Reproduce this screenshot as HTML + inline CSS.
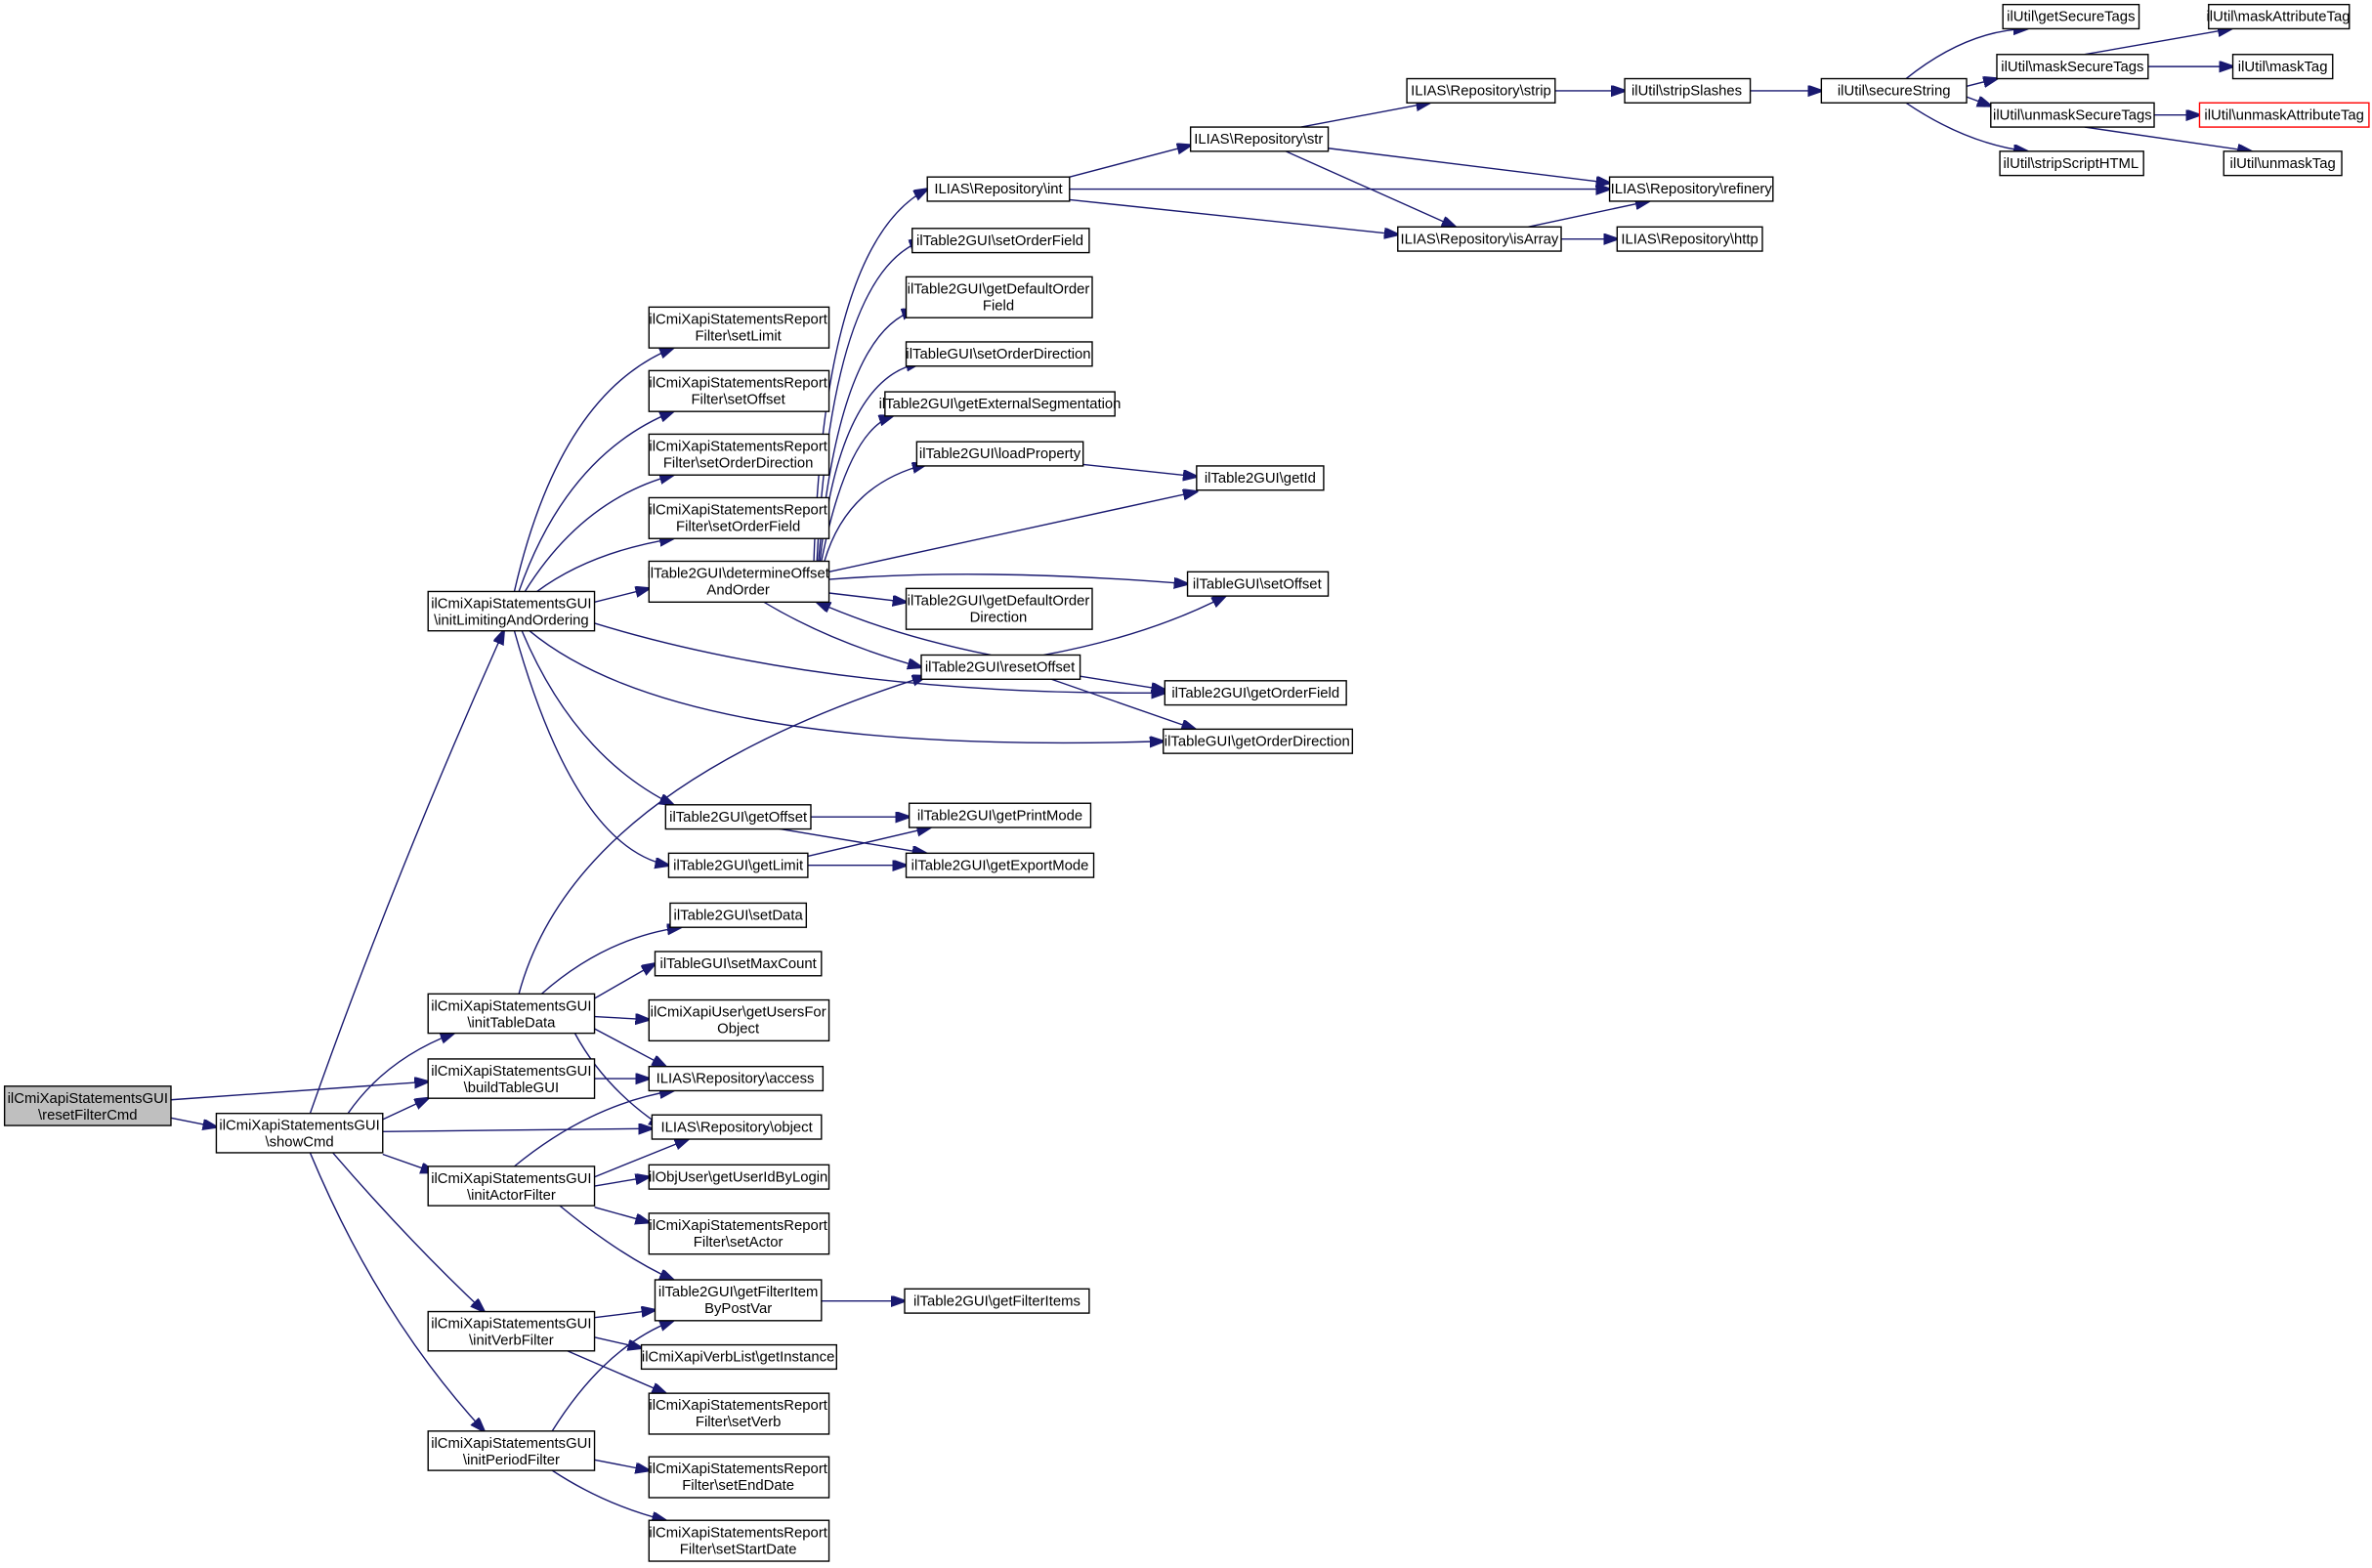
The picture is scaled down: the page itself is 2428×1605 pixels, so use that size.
<!DOCTYPE html>
<html><head><meta charset="utf-8"><style>
html,body{margin:0;padding:0;background:#fff;}
svg{display:block;}
text{font-family:"Liberation Sans",sans-serif;font-size:9.6px;fill:#000;text-anchor:middle;}
.b{fill:#fff;stroke:#000;stroke-width:0.9;}
.e{fill:none;stroke:#191970;stroke-width:0.9;marker-end:url(#a);}
</style></head><body>
<svg width="2428" height="1605" viewBox="0 0 1568 1036.5" preserveAspectRatio="none" xmlns="http://www.w3.org/2000/svg">
<defs><marker id="a" markerWidth="10" markerHeight="8" refX="9" refY="3.5" orient="auto" markerUnits="userSpaceOnUse"><path d="M0,0 L10,3.5 L0,7 z" fill="#191970" stroke="#191970"/></marker></defs>
<!-- edges -->
<path class="e" d="M113,727 L283,715"/>
<path class="e" d="M113,739 L143,745"/>
<path class="e" d="M205,736 Q260,580 333,417"/>
<path class="e" d="M230,736 Q255,700 300,683"/>
<path class="e" d="M253,740 L283,726"/>
<path class="e" d="M253,748 L431,746"/>
<path class="e" d="M253,763 L287,775"/>
<path class="e" d="M220,762 Q270,820 320,867"/>
<path class="e" d="M205,762 Q250,870 320,946"/>
<path class="e" d="M340,391 Q370,260 445,230"/>
<path class="e" d="M343,391 Q375,300 445,272"/>
<path class="e" d="M347,391 Q385,330 445,314"/>
<path class="e" d="M355,391 Q390,365 445,356"/>
<path class="e" d="M393,398 L429,389"/>
<path class="e" d="M393,412 Q550,460 770,458"/>
<path class="e" d="M350,417 Q450,500 769,490"/>
<path class="e" d="M345,417 Q380,500 445,532"/>
<path class="e" d="M340,417 Q380,560 442,572"/>
<path class="e" d="M538,371 Q545,160 613,125"/>
<path class="e" d="M540,371 Q550,180 610,159"/>
<path class="e" d="M541,371 Q555,220 605,205"/>
<path class="e" d="M542,371 Q555,250 608,240"/>
<path class="e" d="M543,371 Q560,285 590,275"/>
<path class="e" d="M545,371 Q560,320 612,307"/>
<path class="e" d="M548,378 L791,325"/>
<path class="e" d="M548,383 Q650,375 785,386"/>
<path class="e" d="M548,392 L599,398"/>
<path class="e" d="M505,398 Q550,425 609,441"/>
<path class="e" d="M655,433 Q590,420 540,398"/>
<path class="e" d="M690,433 Q760,420 810,394"/>
<path class="e" d="M714,447 L770,456"/>
<path class="e" d="M695,449 L790,482"/>
<path class="e" d="M536,540 L601,540"/>
<path class="e" d="M510,547 L612,564"/>
<path class="e" d="M534,566 L615,547"/>
<path class="e" d="M534,572 L599,572"/>
<path class="e" d="M716,307 L791,315"/>
<path class="e" d="M707,117 L787,96"/>
<path class="e" d="M707,125 L1064,125"/>
<path class="e" d="M707,132 L924,155"/>
<path class="e" d="M860,84 L945,68"/>
<path class="e" d="M878,98 L1064,121"/>
<path class="e" d="M850,100 L962,150"/>
<path class="e" d="M1028,60 L1074,60"/>
<path class="e" d="M1157,60 L1204,60"/>
<path class="e" d="M1010,150 L1090,133"/>
<path class="e" d="M1032,158 L1069,158"/>
<path class="e" d="M1260,52 Q1300,20 1340,19"/>
<path class="e" d="M1300,57 L1320,52"/>
<path class="e" d="M1300,64 L1316,70"/>
<path class="e" d="M1260,68 Q1300,95 1340,100"/>
<path class="e" d="M1378,36 L1475,19"/>
<path class="e" d="M1406,44 L1476,44"/>
<path class="e" d="M1410,76 L1454,76"/>
<path class="e" d="M1378,84 L1488,100"/>
<path class="e" d="M343,657 Q380,520 612,447"/>
<path class="e" d="M358,657 Q400,620 450,613"/>
<path class="e" d="M393,660 L433,637"/>
<path class="e" d="M393,672 L429,674"/>
<path class="e" d="M393,680 L440,705"/>
<path class="e" d="M380,683 Q400,720 438,745"/>
<path class="e" d="M393,713 L429,713"/>
<path class="e" d="M340,771 Q390,730 445,721"/>
<path class="e" d="M393,778 L455,753"/>
<path class="e" d="M393,784 L429,778"/>
<path class="e" d="M393,798 L429,808"/>
<path class="e" d="M370,797 Q410,830 445,846"/>
<path class="e" d="M393,871 L433,866"/>
<path class="e" d="M393,884 L424,891"/>
<path class="e" d="M375,893 L440,921"/>
<path class="e" d="M365,946 Q400,890 445,873"/>
<path class="e" d="M393,965 L429,972"/>
<path class="e" d="M365,972 Q400,995 440,1005"/>
<path class="e" d="M543,860 L598,860"/>
<!-- nodes -->
<rect x="3" y="718" width="110" height="26" fill="#bfbfbf" stroke="#000" stroke-width="0.9"/><text x="58" y="729">ilCmiXapiStatementsGUI</text><text x="58" y="740">\resetFilterCmd</text>
<rect class="b" x="143" y="736" width="110" height="26"/><text x="198" y="747">ilCmiXapiStatementsGUI</text><text x="198" y="758">\showCmd</text>
<rect class="b" x="283" y="391" width="110" height="26"/><text x="338" y="402">ilCmiXapiStatementsGUI</text><text x="338" y="413">\initLimitingAndOrdering</text>
<rect class="b" x="283" y="657" width="110" height="26"/><text x="338" y="668">ilCmiXapiStatementsGUI</text><text x="338" y="679">\initTableData</text>
<rect class="b" x="283" y="700" width="110" height="26"/><text x="338" y="711">ilCmiXapiStatementsGUI</text><text x="338" y="722">\buildTableGUI</text>
<rect class="b" x="283" y="771" width="110" height="26"/><text x="338" y="782">ilCmiXapiStatementsGUI</text><text x="338" y="793">\initActorFilter</text>
<rect class="b" x="283" y="867" width="110" height="26"/><text x="338" y="878">ilCmiXapiStatementsGUI</text><text x="338" y="889">\initVerbFilter</text>
<rect class="b" x="283" y="946" width="110" height="26"/><text x="338" y="957">ilCmiXapiStatementsGUI</text><text x="338" y="968">\initPeriodFilter</text>
<rect class="b" x="429" y="203" width="119" height="27"/><text x="488" y="214">ilCmiXapiStatementsReport</text><text x="488" y="225">Filter\setLimit</text>
<rect class="b" x="429" y="245" width="119" height="27"/><text x="488" y="256">ilCmiXapiStatementsReport</text><text x="488" y="267">Filter\setOffset</text>
<rect class="b" x="429" y="287" width="119" height="27"/><text x="488" y="298">ilCmiXapiStatementsReport</text><text x="488" y="309">Filter\setOrderDirection</text>
<rect class="b" x="429" y="329" width="119" height="27"/><text x="488" y="340">ilCmiXapiStatementsReport</text><text x="488" y="351">Filter\setOrderField</text>
<rect class="b" x="429" y="371" width="119" height="27"/><text x="488" y="382">ilTable2GUI\determineOffset</text><text x="488" y="393">AndOrder</text>
<rect class="b" x="440" y="532" width="96" height="16"/><text x="488" y="543">ilTable2GUI\getOffset</text>
<rect class="b" x="442" y="564" width="92" height="16"/><text x="488" y="575">ilTable2GUI\getLimit</text>
<rect class="b" x="443" y="597" width="90" height="16"/><text x="488" y="608">ilTable2GUI\setData</text>
<rect class="b" x="433" y="629" width="110" height="16"/><text x="488" y="640">ilTableGUI\setMaxCount</text>
<rect class="b" x="429" y="661" width="119" height="27"/><text x="488" y="672">ilCmiXapiUser\getUsersFor</text><text x="488" y="683">Object</text>
<rect class="b" x="429" y="705" width="115" height="16"/><text x="486" y="716">ILIAS\Repository\access</text>
<rect class="b" x="431" y="737" width="112" height="16"/><text x="487" y="748">ILIAS\Repository\object</text>
<rect class="b" x="429" y="770" width="119" height="16"/><text x="488" y="781">ilObjUser\getUserIdByLogin</text>
<rect class="b" x="429" y="802" width="119" height="27"/><text x="488" y="813">ilCmiXapiStatementsReport</text><text x="488" y="824">Filter\setActor</text>
<rect class="b" x="433" y="846" width="110" height="27"/><text x="488" y="857">ilTable2GUI\getFilterItem</text><text x="488" y="868">ByPostVar</text>
<rect class="b" x="424" y="889" width="129" height="16"/><text x="488" y="900">ilCmiXapiVerbList\getInstance</text>
<rect class="b" x="429" y="921" width="119" height="27"/><text x="488" y="932">ilCmiXapiStatementsReport</text><text x="488" y="943">Filter\setVerb</text>
<rect class="b" x="429" y="963" width="119" height="27"/><text x="488" y="974">ilCmiXapiStatementsReport</text><text x="488" y="985">Filter\setEndDate</text>
<rect class="b" x="429" y="1005" width="119" height="27"/><text x="488" y="1016">ilCmiXapiStatementsReport</text><text x="488" y="1027">Filter\setStartDate</text>
<rect class="b" x="613" y="117" width="94" height="16"/><text x="660" y="128">ILIAS\Repository\int</text>
<rect class="b" x="603" y="151" width="117" height="16"/><text x="661" y="162">ilTable2GUI\setOrderField</text>
<rect class="b" x="599" y="183" width="123" height="27"/><text x="660" y="194">ilTable2GUI\getDefaultOrder</text><text x="660" y="205">Field</text>
<rect class="b" x="599" y="226" width="123" height="16"/><text x="660" y="237">ilTableGUI\setOrderDirection</text>
<rect class="b" x="585" y="259" width="152" height="16"/><text x="661" y="270">ilTable2GUI\getExternalSegmentation</text>
<rect class="b" x="606" y="292" width="110" height="16"/><text x="661" y="303">ilTable2GUI\loadProperty</text>
<rect class="b" x="599" y="389" width="123" height="27"/><text x="660" y="400">ilTable2GUI\getDefaultOrder</text><text x="660" y="411">Direction</text>
<rect class="b" x="609" y="433" width="105" height="16"/><text x="661" y="444">ilTable2GUI\resetOffset</text>
<rect class="b" x="601" y="531" width="120" height="16"/><text x="661" y="542">ilTable2GUI\getPrintMode</text>
<rect class="b" x="599" y="564" width="124" height="16"/><text x="661" y="575">ilTable2GUI\getExportMode</text>
<rect class="b" x="598" y="852" width="122" height="16"/><text x="659" y="863">ilTable2GUI\getFilterItems</text>
<rect class="b" x="787" y="84" width="91" height="16"/><text x="832" y="95">ILIAS\Repository\str</text>
<rect class="b" x="791" y="308" width="84" height="16"/><text x="833" y="319">ilTable2GUI\getId</text>
<rect class="b" x="785" y="378" width="93" height="16"/><text x="831" y="389">ilTableGUI\setOffset</text>
<rect class="b" x="770" y="450" width="120" height="16"/><text x="830" y="461">ilTable2GUI\getOrderField</text>
<rect class="b" x="769" y="482" width="125" height="16"/><text x="831" y="493">ilTableGUI\getOrderDirection</text>
<rect class="b" x="930" y="52" width="98" height="16"/><text x="979" y="63">ILIAS\Repository\strip</text>
<rect class="b" x="924" y="150" width="108" height="16"/><text x="978" y="161">ILIAS\Repository\isArray</text>
<rect class="b" x="1074" y="52" width="83" height="16"/><text x="1115" y="63">ilUtil\stripSlashes</text>
<rect class="b" x="1064" y="117" width="108" height="16"/><text x="1118" y="128">ILIAS\Repository\refinery</text>
<rect class="b" x="1069" y="150" width="96" height="16"/><text x="1117" y="161">ILIAS\Repository\http</text>
<rect class="b" x="1204" y="52" width="96" height="16"/><text x="1252" y="63">ilUtil\secureString</text>
<rect class="b" x="1324" y="3" width="90" height="16"/><text x="1369" y="14">ilUtil\getSecureTags</text>
<rect class="b" x="1320" y="36" width="100" height="16"/><text x="1370" y="47">ilUtil\maskSecureTags</text>
<rect class="b" x="1316" y="68" width="108" height="16"/><text x="1370" y="79">ilUtil\unmaskSecureTags</text>
<rect class="b" x="1322" y="100" width="95" height="16"/><text x="1369" y="111">ilUtil\stripScriptHTML</text>
<rect class="b" x="1460" y="3" width="93" height="16"/><text x="1506" y="14">ilUtil\maskAttributeTag</text>
<rect class="b" x="1476" y="36" width="66" height="16"/><text x="1509" y="47">ilUtil\maskTag</text>
<rect x="1454" y="68" width="112" height="16" fill="#fff" stroke="#ff0000" stroke-width="0.9"/><text x="1510" y="79">ilUtil\unmaskAttributeTag</text>
<rect class="b" x="1470" y="100" width="78" height="16"/><text x="1509" y="111">ilUtil\unmaskTag</text>
</svg>
</body></html>
